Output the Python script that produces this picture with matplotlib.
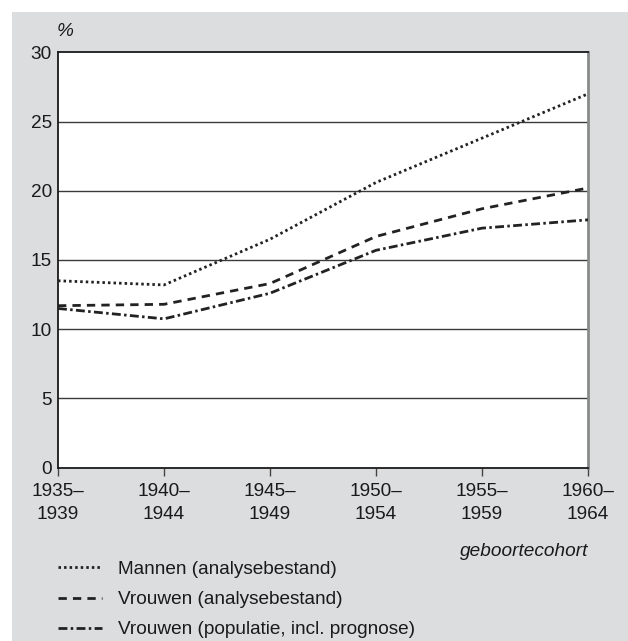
import matplotlib
matplotlib.use("Agg")
import matplotlib.pyplot as plt
from matplotlib.patches import Rectangle

# =============================================================================
# data
# =============================================================================
cohorts = ["1935–\n1939", "1940–\n1944", "1945–\n1949", "1950–\n1954", "1955–\n1959", "1960–\n1964"]
mannen_analyse = [13.5, 13.2, 16.5, 20.6, 23.8, 27.0]
vrouwen_analyse = [11.7, 11.8, 13.3, 16.7, 18.7, 20.2]
vrouwen_populatie = [11.5, 10.75, 12.6, 15.7, 17.3, 17.9]

labels = ["Mannen (analysebestand)",
          "Vrouwen (analysebestand)",
          "Vrouwen (populatie, incl. prognose)"]

plt.rcParams['font.family'] = ['Liberation Sans', 'DejaVu Sans']
fs = 13.7
bg = '#dcdddf'
ink = '#222222'

fig = plt.figure(figsize=(6.28, 6.41), dpi=100)
fig.set_facecolor('w')
# grey panel behind the chart (white strip left and top)
fig.patches.append(Rectangle((12 / 628, 0), 1, 1 - 12 / 641, transform=fig.transFigure,
                             facecolor=bg, edgecolor='none', zorder=-10))

ax = fig.add_axes([58 / 628, 1 - 467.7 / 641, 530 / 628, (467.7 - 52.3) / 641])
ax.set_facecolor('w')

x = list(range(len(cohorts)))

# horizontal grid lines
for yv in [5, 10, 15, 20, 25]:
    ax.axhline(yv, color='#3a3a3a', linewidth=1.0, zorder=1)

l1, = ax.plot(x, mannen_analyse, color=ink, linewidth=2.0, linestyle=(0, (0.9, 1.1)), zorder=3)
l2, = ax.plot(x, vrouwen_analyse, color=ink, linewidth=2.0, linestyle=(0, (3.0, 2.2)), zorder=3)
l3, = ax.plot(x, vrouwen_populatie, color=ink, linewidth=2.0, linestyle=(0, (3.2, 1.2, 0.9, 1.2)),
              zorder=3)

ax.set_xlim(0, 5)
ax.set_ylim(0, 30)
ax.set_yticks([0, 5, 10, 15, 20, 25, 30])
ax.set_xticks(x)
ax.set_xticklabels(cohorts, fontsize=fs, linespacing=1.5)

ax.tick_params(axis='y', length=0, pad=4.3, labelsize=fs, colors='#1a1a1a')
ax.tick_params(axis='x', direction='out', length=5.5, width=1.0, color='#444444', pad=5.5,
               labelsize=fs, labelcolor='#1a1a1a')

for side in ['left', 'bottom', 'top']:
    ax.spines[side].set_color('#1a1a1a')
    ax.spines[side].set_linewidth(1.3)
ax.spines['right'].set_color('#8a8a8a')
ax.spines['right'].set_linewidth(2.0)

fig.text(65 / 628, 1 - 31.5 / 641, '%', fontsize=fs, style='italic', color='#1a1a1a',
         ha='center', va='center')
fig.text(588 / 628, 1 - 552 / 641, 'geboortecohort', fontsize=fs, style='italic',
         color='#1a1a1a', ha='right', va='center')

leg = fig.legend([l1, l2, l3], labels, loc='upper left', bbox_to_anchor=(50 / 628, 1 - 553 / 641),
                 frameon=False, fontsize=fs, handlelength=2.35, handletextpad=0.85,
                 labelspacing=0.68, borderaxespad=0, borderpad=0.4)
for t in leg.get_texts():
    t.set_color('#1a1a1a')

plt.savefig('out.png', dpi=100, facecolor=fig.get_facecolor())
